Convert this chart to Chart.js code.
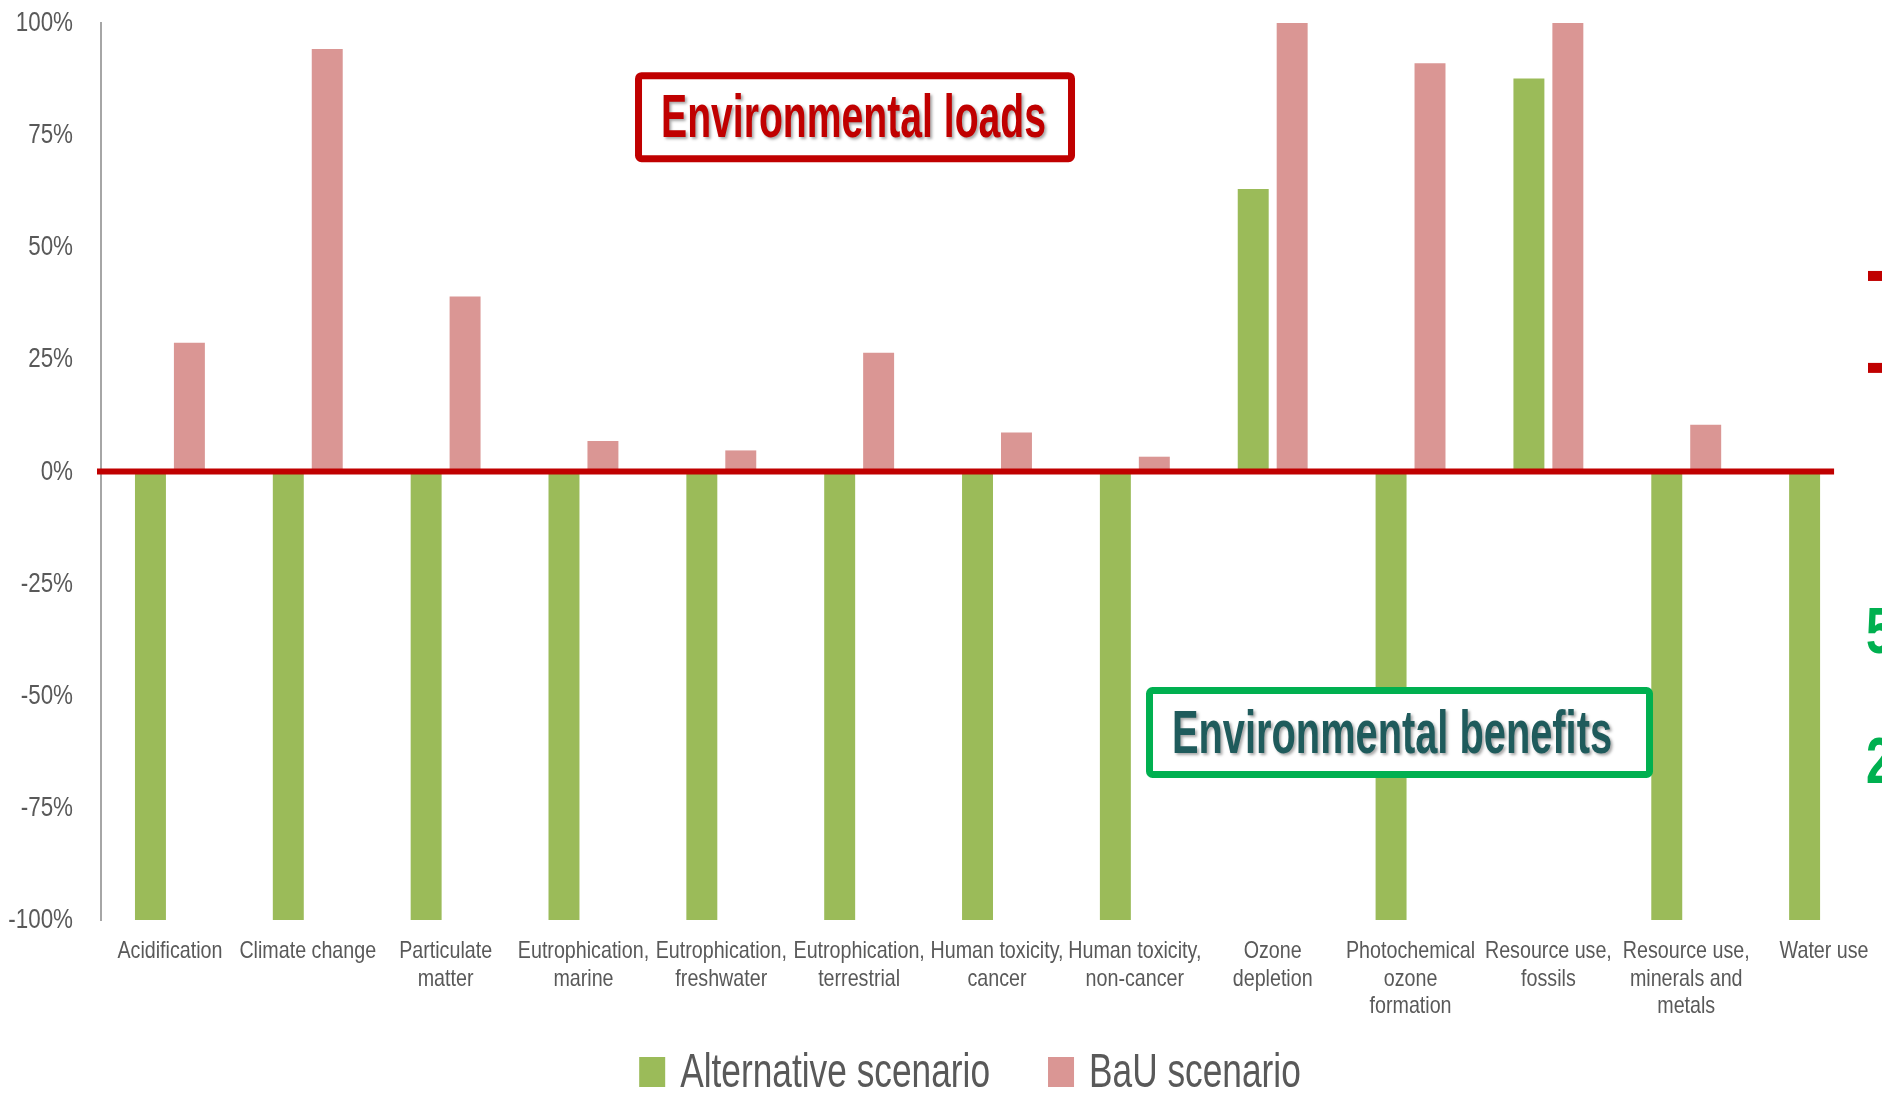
<!DOCTYPE html>
<html>
<head>
<meta charset="utf-8">
<script src="https://cdn.jsdelivr.net/npm/chart.js@4.4.0/dist/chart.umd.min.js"></script>
<style>
  html, body { margin: 0; padding: 0; background: #fff; overflow: hidden; }
  #wrap { width: 1936px; height: 1096px; }
</style>
</head>
<body>
<div id="wrap"><canvas id="canvas" width="1936" height="1096"></canvas></div>
<script>
// impact categories (x axis)
const categories = [
    'Acidification',
    'Climate change',
    ['Particulate', 'matter'],
    ['Eutrophication,', 'marine'],
    ['Eutrophication,', 'freshwater'],
    ['Eutrophication,', 'terrestrial'],
    ['Human toxicity,', 'cancer'],
    ['Human toxicity,', 'non-cancer'],
    ['Ozone', 'depletion'],
    ['Photochemical', 'ozone', 'formation'],
    ['Resource use,', 'fossils'],
    ['Resource use,', 'minerals and', 'metals'],
    'Water use'
];

// % change
const alternativeValues = [-100, -100, -100, -100, -100, -100, -100, -100, 63, -100, 87.6, -100, -100];
const bauValues = [28.7, 94.2, 39, 6.8, 4.7, 26.5, 8.7, 3.3, 100, 91, 100, 10.4, null];

const yTicks = [100, 75, 50, 25, 0, -25, -50, -75, -100];

const seriesNames = ['Alternative scenario', 'BaU scenario'];
const seriesColors = ['#9BBB59', '#DA9694'];

const sans = '"Liberation Sans", Arial, sans-serif';
const grey = '#595959';

// text squeezed sideways (the original uses narrow fonts we don't have)
function squeezeText(ctx, text, x, y, font, color, sx, align) {
    ctx.save();
    ctx.font = font;
    ctx.fillStyle = color;
    ctx.textAlign = align || 'left';
    ctx.textBaseline = 'alphabetic';
    ctx.translate(x, y);
    ctx.scale(sx, 1);
    ctx.fillText(text, 0, 0);
    ctx.restore();
}

// tick labels for both axes
const axisLabels = {
    id: 'axisLabels',
    afterDraw(chart) {
        const ctx = chart.ctx;
        const x = chart.scales.x, y = chart.scales.y;
        const area = chart.chartArea;
        yTicks.forEach(v => {
            squeezeText(ctx, v + '%', area.left - 28, y.getPixelForValue(v) + 8,
                '28px ' + sans, grey, 0.8, 'right');
        });
        categories.forEach((c, i) => {
            const lines = Array.isArray(c) ? c : [c];
            const cx = x.getPixelForValue(i);
            lines.forEach((t, k) => {
                squeezeText(ctx, t, cx, area.bottom + 38 + k * 27.6,
                    '24px ' + sans, grey, 0.82, 'center');
            });
        });
    }
};

// red line on 0%
const zeroLine = {
    id: 'zeroLine',
    afterDatasetsDraw(chart) {
        const ctx = chart.ctx;
        const x = chart.scales.x, y = chart.scales.y;
        const yy = y.getPixelForValue(0);
        ctx.save();
        ctx.strokeStyle = '#C00000';
        ctx.lineWidth = 6;
        ctx.beginPath();
        ctx.moveTo(chart.chartArea.left - 4, yy);
        ctx.lineTo(x.getPixelForValue(categories.length - 1) + 10, yy);
        ctx.stroke();
        ctx.restore();
    }
};

function drawBox(ctx, cx, cy, w, h, borderColor, textColor, text, textW) {
    const left = cx - w / 2, top = cy - h / 2;
    ctx.save();
    ctx.lineWidth = 7;
    ctx.strokeStyle = borderColor;
    ctx.fillStyle = '#fff';
    ctx.beginPath();
    if (ctx.roundRect) {
        ctx.roundRect(left + 3.5, top + 3.5, w - 7, h - 7, 3);
    } else {
        ctx.rect(left + 3.5, top + 3.5, w - 7, h - 7);
    }
    ctx.fill();
    ctx.stroke();
    ctx.font = 'bold 61px ' + sans;
    const sx = textW / ctx.measureText(text).width;
    ctx.shadowColor = 'rgba(0,0,0,0.35)';
    ctx.shadowOffsetX = 2;
    ctx.shadowOffsetY = 2;
    ctx.shadowBlur = 3;
    ctx.fillStyle = textColor;
    ctx.textAlign = 'left';
    ctx.textBaseline = 'alphabetic';
    ctx.translate(left + 26, cy + 20);
    ctx.scale(sx, 1);
    ctx.fillText(text, 0, 0);
    ctx.restore();
}

// the two labelled boxes + the cropped marks on the right edge
const notes = {
    id: 'notes',
    afterDraw(chart) {
        const ctx = chart.ctx;
        const x = chart.scales.x, y = chart.scales.y;
        drawBox(ctx, x.getPixelForValue(4.97), y.getPixelForValue(79), 440, 90,
            '#C00000', '#C00000', 'Environmental loads', 385);
        drawBox(ctx, x.getPixelForValue(8.92), y.getPixelForValue(-58.2), 507, 91,
            '#00B050', '#1F5B5C', 'Environmental benefits', 440);

        // bits of something cut off by the image edge
        ctx.save();
        ctx.fillStyle = '#C00000';
        ctx.fillRect(1868, y.getPixelForValue(43.6) - 5, 30, 10);
        ctx.fillRect(1868, y.getPixelForValue(23.1) - 5, 30, 10);
        ctx.restore();
        squeezeText(ctx, '5', 1866, y.getPixelForValue(-40.5), 'bold 64px ' + sans, '#00B050', 0.75);
        squeezeText(ctx, '2', 1866, y.getPixelForValue(-69.5), 'bold 64px ' + sans, '#00B050', 0.75);
    }
};

// legend drawn by hand so the spacing matches
const bottomLegend = {
    id: 'bottomLegend',
    afterDraw(chart) {
        const ctx = chart.ctx;
        const boxW = 26, boxH = 30, gap = 15, itemGap = 58, sx = 0.72;
        const font = '49px ' + sans;
        ctx.save();
        ctx.font = font;
        const items = chart.data.datasets.map(d => ({
            label: d.label, color: d.backgroundColor, w: ctx.measureText(d.label).width * sx
        }));
        ctx.restore();
        let total = 0;
        items.forEach((it, i) => { total += boxW + gap + it.w + (i ? itemGap : 0); });
        let cx = chart.width / 2 - total / 2 + 2;
        const base = chart.height - 9;
        items.forEach(it => {
            ctx.fillStyle = it.color;
            ctx.fillRect(cx, base - boxH, boxW, boxH);
            squeezeText(ctx, it.label, cx + boxW + gap, base, font, grey, sx);
            cx += boxW + gap + it.w + itemGap;
        });
    }
};

const ctx = document.getElementById('canvas').getContext('2d');
window.myChart = new Chart(ctx, {
    type: 'bar',
    data: {
        labels: categories,
        datasets: [
            {
                label: seriesNames[0],
                data: alternativeValues,
                backgroundColor: seriesColors[0],
                borderWidth: 0
            },
            {
                label: seriesNames[1],
                data: bauValues,
                backgroundColor: seriesColors[1],
                borderWidth: 0
            }
        ]
    },
    options: {
        responsive: false,
        animation: false,
        devicePixelRatio: 1,
        categoryPercentage: 0.565,
        barPercentage: 0.795,
        layout: { padding: { left: 101, right: 43, top: 23, bottom: 176 } },
        plugins: {
            legend: { display: false },
            tooltip: { enabled: false }
        },
        scales: {
            x: {
                grid: { display: false, drawTicks: false },
                border: { display: false },
                ticks: { display: false }
            },
            y: {
                min: -100,
                max: 100,
                grid: { display: false, drawTicks: false },
                border: { display: true, color: '#A6A6A6', width: 2 },
                ticks: { display: false, stepSize: 25 }
            }
        }
    },
    plugins: [zeroLine, axisLabels, notes, bottomLegend]
});
</script>
</body>
</html>
